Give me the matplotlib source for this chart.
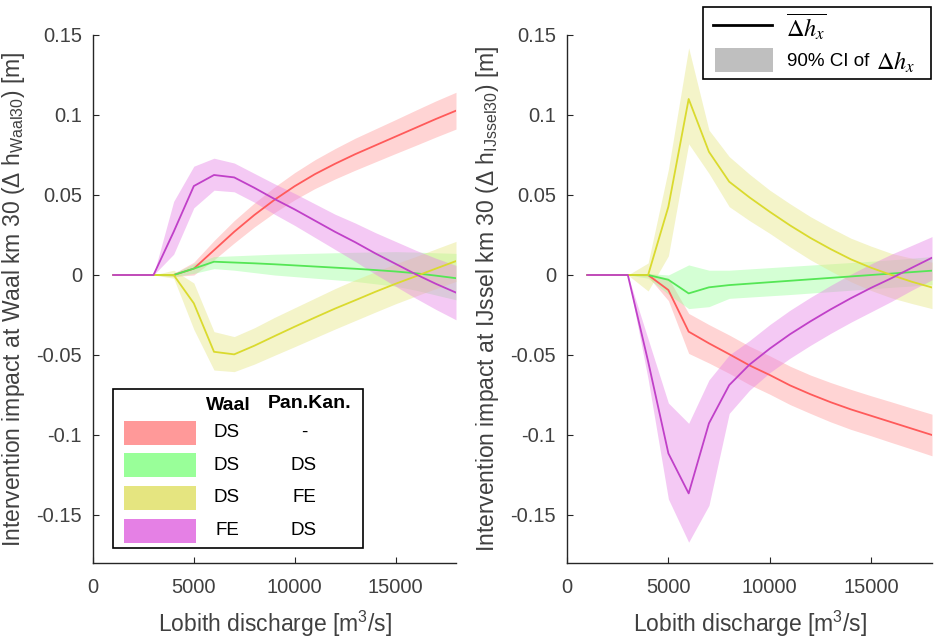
import matplotlib
matplotlib.use('Agg')
import matplotlib.pyplot as plt
from matplotlib.patches import Rectangle
from matplotlib.lines import Line2D

plt.rcParams['font.family'] = ['Liberation Sans', 'DejaVu Sans']
plt.rcParams['axes.unicode_minus'] = False

# ---------------- data ----------------
discharge = [1000, 2000, 3000, 4000, 5000, 6000, 7000, 8000, 9000,
             10000, 11000, 12000, 13000, 14000, 15000, 16000, 17000, 18000]

# Waal km 30 (left panel)
waal_red_mean = [0, 0, 0, 0, 0.004, 0.0155, 0.027, 0.0375, 0.047, 0.0555, 0.063, 0.0695, 0.0755, 0.081, 0.0865, 0.092, 0.0975, 0.1027]
waal_red_lo = [0, 0, 0, -0.001, 0.0, 0.0095, 0.020, 0.030, 0.039, 0.047, 0.054, 0.060, 0.0655, 0.0707, 0.0759, 0.081, 0.0862, 0.0912]
waal_red_hi = [0, 0, 0, 0.001, 0.008, 0.0215, 0.034, 0.045, 0.055, 0.064, 0.072, 0.079, 0.0855, 0.0913, 0.0971, 0.103, 0.1088, 0.1142]

waal_green_mean = [0, 0, 0, 0, 0.004, 0.0083, 0.0078, 0.0073, 0.0067, 0.006, 0.0053, 0.0046, 0.0039, 0.0031, 0.0022, 0.0011, -0.0004, -0.002]
waal_green_lo = [0, 0, 0, -0.001, 0.001, 0.004, 0.003, 0.0015, 0.0, -0.001, -0.002, -0.003, -0.004, -0.0055, -0.007, -0.0095, -0.0125, -0.0155]
waal_green_hi = [0, 0, 0, 0.001, 0.007, 0.0115, 0.012, 0.0125, 0.013, 0.0133, 0.0136, 0.0139, 0.0142, 0.0144, 0.0146, 0.0143, 0.0139, 0.0135]

waal_yellow_mean = [0, 0, 0, 0, -0.0177, -0.048, -0.0496, -0.0442, -0.0382, -0.0323, -0.0266, -0.021, -0.0158, -0.0105, -0.0055, -0.0008, 0.004, 0.0087]
waal_yellow_lo = [0, 0, 0, -0.002, -0.034, -0.0594, -0.0604, -0.0557, -0.0502, -0.0448, -0.0393, -0.0338, -0.0285, -0.0232, -0.018, -0.0132, -0.0085, -0.004]
waal_yellow_hi = [0, 0, 0, 0.003, -0.005, -0.0354, -0.0385, -0.033, -0.0265, -0.0205, -0.0145, -0.0085, -0.003, 0.002, 0.007, 0.0115, 0.0163, 0.021]

waal_purple_mean = [0, 0, 0, 0.027, 0.0556, 0.0625, 0.061, 0.0545, 0.0475, 0.041, 0.034, 0.027, 0.0205, 0.0135, 0.007, 0.0005, -0.0055, -0.011]
waal_purple_lo = [0, 0, 0, 0.013, 0.042, 0.053, 0.052, 0.0455, 0.038, 0.031, 0.0235, 0.016, 0.0085, 0.0005, -0.007, -0.0145, -0.0215, -0.028]
waal_purple_hi = [0, 0, 0, 0.046, 0.068, 0.073, 0.070, 0.0635, 0.057, 0.051, 0.0445, 0.038, 0.0325, 0.0265, 0.021, 0.0155, 0.0105, 0.006]

# IJssel km 30 (right panel)
ijssel_red_mean = [0, 0, 0, 0, -0.0094, -0.0354, -0.0427, -0.0495, -0.0565, -0.0625, -0.069, -0.0745, -0.0795, -0.084, -0.088, -0.092, -0.096, -0.100]
ijssel_red_lo = [0, 0, 0, -0.001, -0.016, -0.049, -0.055, -0.0615, -0.0685, -0.0745, -0.081, -0.0865, -0.0918, -0.0965, -0.1005, -0.1047, -0.1088, -0.113]
ijssel_red_hi = [0, 0, 0, 0.001, -0.002, -0.024, -0.031, -0.0375, -0.0445, -0.0505, -0.057, -0.0625, -0.0672, -0.0715, -0.0755, -0.0793, -0.0832, -0.087]

ijssel_green_mean = [0, 0, 0, 0, -0.003, -0.0115, -0.0077, -0.0063, -0.0054, -0.0045, -0.0036, -0.0027, -0.0018, -0.0009, 0.0, 0.0009, 0.0018, 0.0027]
ijssel_green_lo = [0, 0, 0, -0.002, -0.012, -0.021, -0.0198, -0.0146, -0.0138, -0.013, -0.0122, -0.0113, -0.0104, -0.0095, -0.0086, -0.0077, -0.0069, -0.006]
ijssel_green_hi = [0, 0, 0, 0.001, 0.0, 0.0063, 0.003, 0.003, 0.0038, 0.0046, 0.0054, 0.0062, 0.007, 0.0078, 0.0086, 0.0095, 0.0105, 0.0115]

ijssel_yellow_mean = [0, 0, 0, 0, 0.0427, 0.110, 0.077, 0.0583, 0.0485, 0.0395, 0.031, 0.0232, 0.0162, 0.0098, 0.0045, 0.0, -0.0042, -0.0078]
ijssel_yellow_lo = [0, 0, 0, -0.010, 0.012, 0.082, 0.0635, 0.0427, 0.034, 0.026, 0.0175, 0.0095, 0.0025, -0.0042, -0.0097, -0.0143, -0.0178, -0.021]
ijssel_yellow_hi = [0, 0, 0, 0.0075, 0.066, 0.142, 0.0906, 0.074, 0.063, 0.053, 0.0445, 0.0365, 0.0295, 0.023, 0.018, 0.0135, 0.0105, 0.008]

ijssel_purple_mean = [0, 0, 0, -0.054, -0.1115, -0.1365, -0.0927, -0.0688, -0.056, -0.046, -0.037, -0.029, -0.0215, -0.0145, -0.008, -0.002, 0.0045, 0.0108]
ijssel_purple_lo = [0, 0, 0, -0.065, -0.140, -0.167, -0.144, -0.0865, -0.072, -0.061, -0.052, -0.044, -0.0365, -0.0295, -0.023, -0.0165, -0.0095, -0.003]
ijssel_purple_hi = [0, 0, 0, -0.040, -0.080, -0.0927, -0.0656, -0.050, -0.041, -0.031, -0.022, -0.014, -0.0065, 0.0005, 0.007, 0.013, 0.0185, 0.024]

yticks = [-0.15, -0.1, -0.05, 0, 0.05, 0.1, 0.15]
ytick_labels = ['-0.15', '-0.1', '-0.05', '0', '0.05', '0.1', '0.15']
xticks = [0, 5000, 10000, 15000]
xtick_labels = ['0', '5000', '10000', '15000']

legend_waal = ['DS', 'DS', 'DS', 'FE']
legend_pankan = ['-', 'DS', 'FE', 'DS']

# ---------------- style ----------------
fill_colors = ['#FF9999', '#99FF99', '#E5E580', '#E580E5']
line_colors = ['#FF5A5A', '#55E655', '#DADA2E', '#C040C8']
band_alpha = 0.42
text_gray = '#404040'
spine_col = '#262626'

W, H = 934, 638
fig = plt.figure(figsize=(W / 100, H / 100), dpi=100)


def fx(x):
    return x / W


def fy(y):
    return 1 - y / H


ax_l = fig.add_axes([fx(93), fy(563), (456 - 93) / W, (563 - 35) / H])
ax_r = fig.add_axes([fx(567), fy(563), (932 - 567) / W, (563 - 35) / H])

panels = [
    (ax_l,
     [(waal_red_mean, waal_red_lo, waal_red_hi),
      (waal_green_mean, waal_green_lo, waal_green_hi),
      (waal_yellow_mean, waal_yellow_lo, waal_yellow_hi),
      (waal_purple_mean, waal_purple_lo, waal_purple_hi)],
     'Intervention impact at Waal km 30 (Δ h$_{\\mathregular{Waal30}}$) [m]'),
    (ax_r,
     [(ijssel_red_mean, ijssel_red_lo, ijssel_red_hi),
      (ijssel_green_mean, ijssel_green_lo, ijssel_green_hi),
      (ijssel_yellow_mean, ijssel_yellow_lo, ijssel_yellow_hi),
      (ijssel_purple_mean, ijssel_purple_lo, ijssel_purple_hi)],
     'Intervention impact at IJssel km 30 (Δ h$_{\\mathregular{IJssel30}}$) [m]'),
]

for ax, series, ylab in panels:
    for (m, lo, hi), fc in zip(series, fill_colors):
        ax.fill_between(discharge, lo, hi, color=fc, alpha=band_alpha, lw=0)
    for (m, lo, hi), lc in zip(series, line_colors):
        ax.plot(discharge, m, color=lc, lw=1.3)
    ax.set_xlim(0, 18000)
    ax.set_ylim(-0.18, 0.15)
    ax.set_xticks(xticks)
    ax.set_xticklabels(xtick_labels)
    ax.set_yticks(yticks)
    ax.set_yticklabels(ytick_labels)
    for s in ['top', 'right']:
        ax.spines[s].set_visible(False)
    for s in ['left', 'bottom']:
        ax.spines[s].set_color(spine_col)
        ax.spines[s].set_linewidth(1.0)
    ax.tick_params(direction='in', length=4, width=0.8, colors=spine_col,
                   labelcolor=text_gray, labelsize=14.5)
    ax.tick_params(axis='x', pad=11)
    ax.tick_params(axis='y', pad=8)
    ax.set_xlabel('Lobith discharge [m$^{\\mathregular{3}}$/s]', fontsize=16.5,
                  color=text_gray, labelpad=8)
    ax.set_ylabel(ylab, fontsize=16.5, color=text_gray, labelpad=7)

# ---------------- left legend (table style) ----------------
fig.patches.append(Rectangle((fx(113), fy(548)), (363 - 113) / W, (548 - 389) / H,
                             transform=fig.transFigure, facecolor='white',
                             edgecolor='black', lw=1.2, zorder=5))
fig.text(fx(228), fy(405), 'Waal', ha='center', va='center', fontsize=14,
         fontweight='bold', zorder=6)
fig.text(fx(310), fy(404), 'Pan.Kan.', ha='center', va='center', fontsize=14,
         fontweight='bold', zorder=6)
row_y = [432.5, 465, 498, 530.5]
for ry, fc, t1, t2 in zip(row_y, fill_colors, legend_waal, legend_pankan):
    fig.patches.append(Rectangle((fx(124), fy(ry + 12)), (196 - 124) / W, 24 / H,
                                 transform=fig.transFigure, facecolor=fc,
                                 edgecolor='none', zorder=6))
    fig.text(fx(227), fy(ry), t1, ha='center', va='center', fontsize=13.5, zorder=6)
    fig.text(fx(304), fy(ry), t2, ha='center', va='center', fontsize=13.5, zorder=6)

# ---------------- right legend ----------------
fig.patches.append(Rectangle((fx(703), fy(79)), (931 - 703) / W, (79 - 7) / H,
                             transform=fig.transFigure, facecolor='white',
                             edgecolor='black', lw=1.2, zorder=5))
fig.lines.append(Line2D([fx(713), fx(772)], [fy(25), fy(25)], transform=fig.transFigure,
                        color='black', lw=2, zorder=6))
fig.text(fx(786), fy(27), r'$\overline{\Delta h_x}$', ha='left', va='center',
         fontsize=17.5, math_fontfamily='stix', zorder=6)
fig.patches.append(Rectangle((fx(715), fy(72)), (773 - 715) / W, 24 / H,
                             transform=fig.transFigure, facecolor='#BFBFBF',
                             edgecolor='none', zorder=6))
fig.text(fx(787), fy(61), '90% CI of', ha='left', va='center',
         fontsize=13.5, zorder=6)
fig.text(fx(876), fy(62), r'$\Delta h_x$', ha='left', va='center',
         fontsize=17.5, math_fontfamily='stix', zorder=6)

fig.savefig('out.png', dpi=100)
